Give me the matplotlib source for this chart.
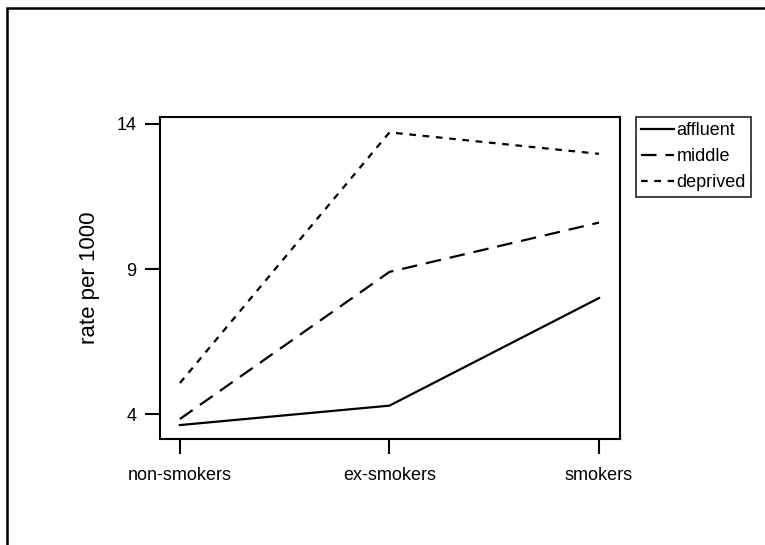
import matplotlib.pyplot as plt
from matplotlib.patches import Rectangle

plt.rcParams['font.family'] = ['Liberation Sans', 'DejaVu Sans']

groups = ['non-smokers', 'ex-smokers', 'smokers']
affluent = [3.62, 4.29, 8.0]
middle = [3.83, 8.9, 10.6]
deprived = [5.07, 13.71, 12.97]
yticks = [4, 9, 14]

W, H = 765, 545
fig = plt.figure(figsize=(W / 100, H / 100), dpi=100)

# outer frame (only left and top edges visible in the scan)
fig.patches.append(Rectangle((7 / W, -0.1), 1.2, 1.1 - 8 / H,
                             transform=fig.transFigure, fill=False,
                             edgecolor='black', linewidth=1.8))

ax = fig.add_axes([160 / W, 1 - 439 / H, 460 / W, 322 / H])
x = range(len(groups))
ax.plot(x, affluent, color='black', lw=1.6, linestyle='-', label='affluent')
ax.plot(x, middle, color='black', lw=1.6, linestyle=(0, (7, 4)), label='middle')
ax.plot(x, deprived, color='black', lw=1.6, linestyle=(0, (3, 3)), label='deprived')

ax.set_xlim(-0.095, 2.1)
ax.set_ylim(3.14, 14.24)
ax.set_xticks(list(x))
ax.set_xticklabels(groups, fontsize=13)
ax.set_yticks(yticks)
ax.set_yticklabels([str(v) for v in yticks], fontsize=13)
ax.tick_params(direction='out', length=11, width=1.5, pad=6)
ax.tick_params(axis='x', pad=9)
for s in ax.spines.values():
  s.set_linewidth(1.5)
ax.set_ylabel('rate per 1000', fontsize=16, labelpad=12)

leg = ax.legend(loc='upper left', bbox_to_anchor=(636 / W, 1 - 117 / H),
                bbox_transform=fig.transFigure, fontsize=13, frameon=True,
                fancybox=False, handlelength=1.8, handletextpad=0.15,
                borderpad=0.3, labelspacing=0.5, borderaxespad=0)
leg.get_frame().set_edgecolor('black')
leg.get_frame().set_linewidth(1.3)

fig.savefig('out.png', dpi=100)
